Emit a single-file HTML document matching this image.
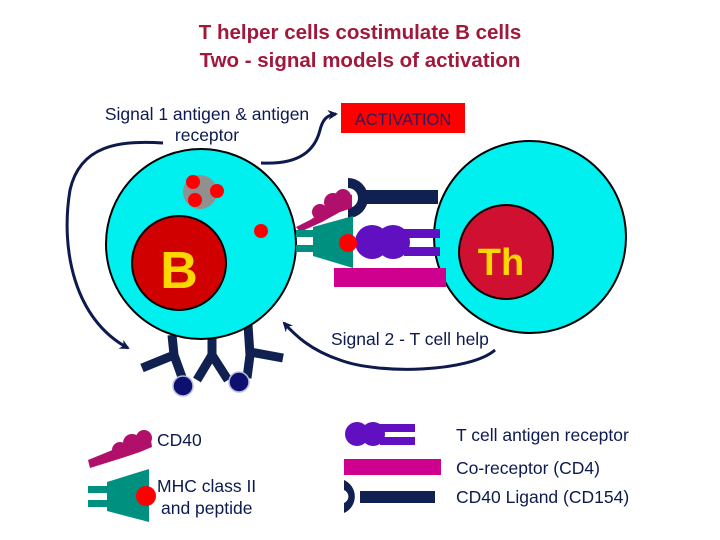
<!DOCTYPE html>
<html><head><meta charset="utf-8"><style>
body{margin:0;background:#fff}
svg{display:block}
text{font-family:"Liberation Sans",Arial,sans-serif}
</style></head><body>
<svg width="720" height="540" viewBox="0 0 720 540" xmlns="http://www.w3.org/2000/svg">
<defs>
<marker id="ah" markerWidth="10" markerHeight="10" refX="8" refY="5" orient="auto" markerUnits="userSpaceOnUse">
<path d="M0,0 L10,5 L0,10 L3,5 Z" fill="#0d1a4e"/></marker>
</defs>
<text x="360" y="39" text-anchor="middle" font-size="20.5" font-weight="bold" fill="#a0183a">T helper cells costimulate B cells</text>
<text x="360" y="67" text-anchor="middle" font-size="20.5" font-weight="bold" fill="#a0183a">Two - signal models of activation</text>
<text x="207" y="120" text-anchor="middle" font-size="17.5" fill="#0d1a4e">Signal 1 antigen &amp; antigen</text>
<text x="207" y="141" text-anchor="middle" font-size="17.5" fill="#0d1a4e">receptor</text>
<rect x="341" y="103" width="124" height="30" fill="#f00"/>
<text x="403" y="125" text-anchor="middle" font-size="16.5" fill="#2a1a5e">ACTIVATION</text>
<!-- arrows -->
<path d="M163,143 C120,140 80,145 70,190 C60,250 75,320 128,348" fill="none" stroke="#0d1a4e" stroke-width="3" marker-end="url(#ah)"/>
<path d="M261,163 C300,165 315,150 320,130 C323,118 328,115 336,114" fill="none" stroke="#0d1a4e" stroke-width="3" marker-end="url(#ah)"/>
<path d="M495,350 C470,372 380,375 340,360 C310,350 295,335 284,323" fill="none" stroke="#0d1a4e" stroke-width="3" marker-end="url(#ah)"/>
<!-- antibodies -->
<g stroke="#102050" stroke-width="9" fill="none" stroke-linejoin="bevel">
<path d="M172,335 L174,355 L142,368 M174,355 L183,380"/>
<path d="M212,335 L212,355 L197,380 M212,355 L228,380"/>
<path d="M248,325 L250,355 L247,378 M250,352 L283,358"/>
</g>
<circle cx="183" cy="386" r="10" fill="#0d1070" stroke="#b8bde0" stroke-width="1.5"/>
<circle cx="239" cy="382" r="10" fill="#0d1070" stroke="#b8bde0" stroke-width="1.5"/>
<!-- B cell -->
<circle cx="201" cy="244" r="95" fill="#00f0f0" stroke="#000" stroke-width="2"/>
<circle cx="179" cy="263" r="47" fill="#d00000" stroke="#000" stroke-width="2"/>
<text x="179" y="288" text-anchor="middle" font-size="52" font-weight="bold" fill="#ffd700">B</text>
<circle cx="200" cy="192" r="17" fill="#909090"/>
<circle cx="193" cy="182" r="7" fill="#f00"/>
<circle cx="217" cy="191" r="7" fill="#f00"/>
<circle cx="195" cy="200" r="7" fill="#f00"/>
<circle cx="261" cy="231" r="7" fill="#f00"/>
<!-- Th cell -->
<circle cx="530" cy="237" r="96" fill="#00f0f0" stroke="#000" stroke-width="2"/>
<circle cx="506" cy="252" r="47" fill="#d01030" stroke="#000" stroke-width="2"/>
<text x="501" y="275" text-anchor="middle" font-size="38" font-weight="bold" fill="#ffd700">Th</text>
<!-- molecules in synapse -->
<rect x="366" y="190" width="72" height="14" fill="#102050"/>
<path d="M348,178 A20,20 0 0 1 348,218 L348,208 A10,10 0 0 0 348,188 Z" fill="#102050"/>
<path d="M296,227 L310,220 L318,215 L330,205 L345,193 L352,195 L352,208 L340,212 L322,222 L300,232 Z" fill="#b0106a"/>
<circle cx="320" cy="212" r="8" fill="#b0106a"/><circle cx="333" cy="202" r="9" fill="#b0106a"/><circle cx="343" cy="197" r="8" fill="#b0106a"/>
<rect x="296" y="230" width="17" height="7" fill="#009080"/>
<rect x="296" y="245" width="17" height="7" fill="#009080"/>
<path d="M313,227 L353,216 L353,268 L313,256 Z" fill="#009080"/>
<rect x="404" y="229" width="36" height="9" fill="#6010c0"/>
<rect x="404" y="247" width="36" height="9" fill="#6010c0"/>
<circle cx="372" cy="242" r="17" fill="#6010c0"/><circle cx="393" cy="242" r="17" fill="#6010c0"/>
<circle cx="348" cy="243" r="9" fill="#f00"/>
<rect x="334" y="268" width="112" height="19" fill="#d0008f"/>
<text x="331" y="345" font-size="17.5" fill="#0d1a4e">Signal 2 - T cell help</text>
<!-- legend -->
<path d="M88,460 L115,449 L125,441 L140,434 L150,433 L152,447 L140,452 L122,458 L90,468 Z" fill="#b0106a"/>
<circle cx="120" cy="450" r="8" fill="#b0106a"/><circle cx="132" cy="443" r="9" fill="#b0106a"/><circle cx="144" cy="438" r="8" fill="#b0106a"/>
<text x="157" y="446" font-size="17.5" fill="#0d1a4e">CD40</text>
<rect x="88" y="486" width="20" height="7" fill="#009080"/>
<rect x="88" y="500" width="20" height="7" fill="#009080"/>
<path d="M107,482 L149,469 L149,522 L107,511 Z" fill="#009080"/>
<circle cx="146" cy="496" r="10" fill="#f00"/>
<text x="157" y="492" font-size="17.5" fill="#0d1a4e">MHC class II</text>
<text x="161" y="514" font-size="17.5" fill="#0d1a4e">and peptide</text>
<rect x="380" y="424" width="35" height="8" fill="#6010c0"/>
<rect x="380" y="437" width="35" height="8" fill="#6010c0"/>
<circle cx="357" cy="434" r="12" fill="#6010c0"/><circle cx="373" cy="434" r="12" fill="#6010c0"/>
<text x="456" y="441" font-size="17.5" fill="#0d1a4e">T cell antigen receptor</text>
<rect x="344" y="459" width="97" height="16" fill="#d0008f"/>
<text x="456" y="474" font-size="17.5" fill="#0d1a4e">Co-receptor (CD4)</text>
<rect x="360" y="491" width="75" height="12" fill="#102050"/>
<path d="M344,480 A18,18 0 0 1 344,513 L344,503 A7,7 0 0 0 344,490 Z" fill="#102050"/>
<text x="456" y="503" font-size="17.5" fill="#0d1a4e">CD40 Ligand (CD154)</text>
</svg>
</body></html>
